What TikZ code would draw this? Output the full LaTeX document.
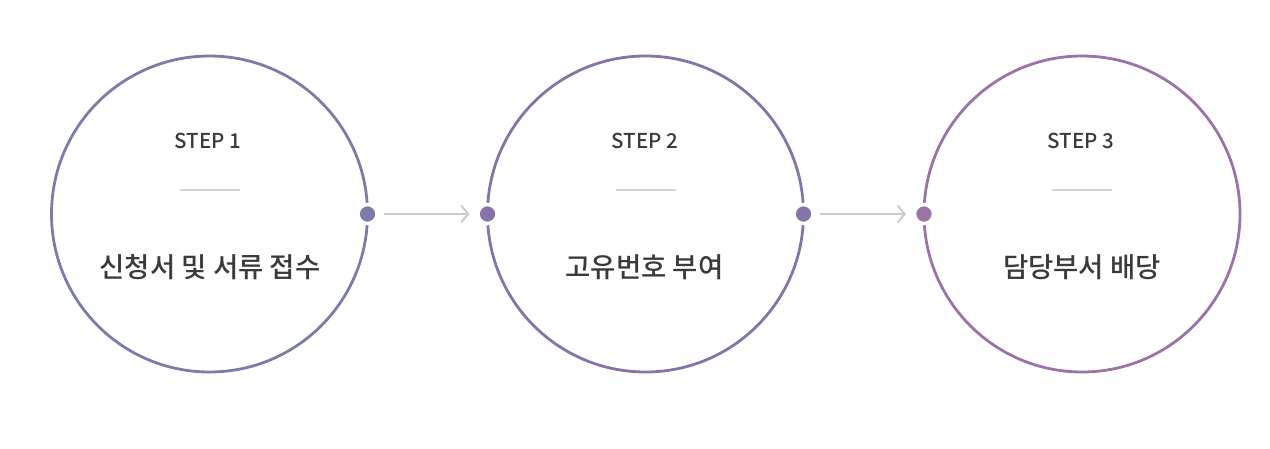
\documentclass[tikz,border=0pt]{standalone}
\usepackage{fontspec}
\newfontfamily\kr{Noto Sans CJK KR Medium}
\usetikzlibrary{arrows.meta}
\definecolor{cA}{HTML}{7B7CAA}
\definecolor{cB}{HTML}{8673A8}
\definecolor{cC}{HTML}{9A73A9}
\definecolor{txt}{HTML}{3A3A3A}
\definecolor{bar}{HTML}{D2D2D2}
\definecolor{arr}{HTML}{CCCCCC}
\tikzset{
  ring/.style={circle, draw=#1, line width=2.8pt, minimum size=316pt, inner sep=0pt, outer sep=0pt},
  dotnode/.style={circle, fill=#1, draw=white, line width=3.5pt, minimum size=19pt, inner sep=0pt, outer sep=0pt},
  steplabel/.style={font=\kr\fontsize{20.5pt}{24pt}\selectfont, text=txt, inner sep=0pt},
  maintext/.style={font=\kr\fontsize{27.5pt}{32pt}\selectfont, text=txt, inner sep=0pt},
  barline/.style={draw=bar, line width=2.8pt},
  flow/.style={draw=arr, line width=2pt, -{Straight Barb[length=7pt,width=17pt,line width=2pt]}, shorten <=16pt, shorten >=18pt}
}
\begin{document}
\begin{tikzpicture}[x=1pt,y=-1pt]
\useasboundingbox (0,0) rectangle (1270,448);
% circles
\node[ring=cA] (c1) at (209.5,214) {};
\node[ring=cB] (c2) at (645.5,214) {};
\node[ring=cC] (c3) at (1082,214) {};
% step labels
\node[steplabel] (s1) at (208,141) {STEP 1};
\node[steplabel] (s2) at (645,141) {STEP 2};
\node[steplabel] (s3) at (1081,141) {STEP 3};
% bars
\coordinate (b1l) at (180,190); \coordinate (b1r) at (240,190);
\coordinate (b2l) at (616,190); \coordinate (b2r) at (676,190);
\coordinate (b3l) at (1052,190); \coordinate (b3r) at (1112,190);
\draw[barline] (b1l) -- (b1r);
\draw[barline] (b2l) -- (b2r);
\draw[barline] (b3l) -- (b3r);
% main texts
\node[maintext] (t1) at (210,267) {신청서 및 서류 접수};
\node[maintext] (t2) at (644.5,267) {고유번호 부여};
\node[maintext] (t3) at (1082,267) {담당부서 배당};
% dots
\node[dotnode=cA] (d1) at (c1.east) {};
\node[dotnode=cB] (d2) at (c2.west) {};
\node[dotnode=cB] (d3) at (c2.east) {};
\node[dotnode=cC] (d4) at (c3.west) {};
% arrows
\draw[flow] (d1.center) -- (d2.center);
\draw[flow] (d3.center) -- (d4.center);
\end{tikzpicture}
\end{document}
